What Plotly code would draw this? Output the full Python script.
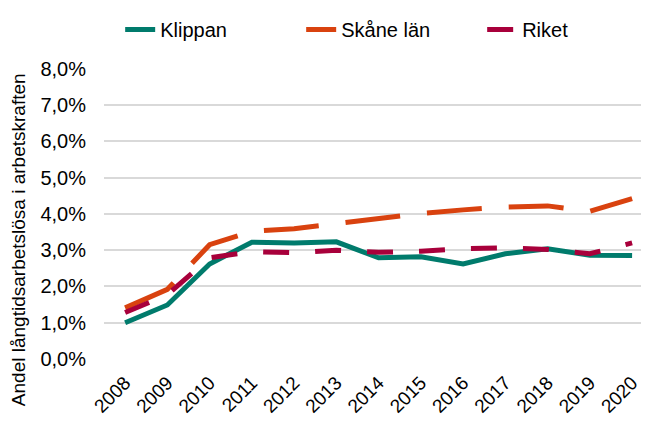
import plotly.graph_objects as go

years = [str(y) for y in range(2008, 2021)]
klippan = [1.00, 1.49, 2.62, 3.22, 3.20, 3.23, 2.79, 2.82, 2.62, 2.90, 3.04, 2.86, 2.85]
skane = [1.41, 1.92, 3.15, 3.52, 3.59, 3.73, 3.85, 4.01, 4.11, 4.19, 4.22, 4.07, 4.42]
riket = [1.28, 1.77, 2.79, 2.96, 2.93, 3.00, 2.94, 2.97, 3.04, 3.06, 3.02, 2.90, 3.20]
y_ticks = [0, 1, 2, 3, 4, 5, 6, 7, 8]
y_labels = ["0,0%", "1,0%", "2,0%", "3,0%", "4,0%", "5,0%", "6,0%", "7,0%", "8,0%"]
y_title = "Andel långtidsarbetslösa i arbetskraften"

FONT = "Liberation Sans, Arial, sans-serif"

fig = go.Figure()
fig.add_trace(go.Scatter(
    x=years, y=klippan, mode="lines", name="Klippan",
    line=dict(color="#007B6C", width=5),
))
fig.add_trace(go.Scatter(
    x=years, y=skane, mode="lines", name="Skåne län",
    line=dict(color="#D9420F", width=5, dash="55px,27px"),
))
fig.add_trace(go.Scatter(
    x=years, y=riket, mode="lines", name="Riket",
    line=dict(color="#A8003B", width=5, dash="26px,26px"),
))

# page body has an 8px margin, so the figure is a bit smaller than the window
fig.update_layout(
    width=641, height=413,
    paper_bgcolor="white", plot_bgcolor="white",
    font=dict(family=FONT, size=20, color="#000000"),
    margin=dict(l=96, r=0, t=60, b=62, autoexpand=False),
    showlegend=True,
    legend=dict(
        orientation="h", x=0.175, xanchor="left", xref="container",
        y=0.995, yanchor="top", yref="container",
        font=dict(size=20), entrywidth=136,
    ),
    xaxis=dict(
        type="category", range=[-0.5, 12.4], tickangle=-45, automargin=False,
        showgrid=False, showline=False, ticks="", tickfont=dict(size=19),
        ticklabelstandoff=8,
    ),
    yaxis=dict(
        range=[0, 8.02], tickvals=y_ticks, ticktext=y_labels, automargin=False,
        showgrid=True, gridcolor="#D9D9D9", gridwidth=1.5,
        zeroline=False, showline=False, ticks="",
        tickfont=dict(size=20), ticklabelstandoff=17,
    ),
)
fig.add_annotation(
    text=y_title, textangle=-90, showarrow=False,
    xref="paper", yref="paper", x=-0.157, y=0.41,
    xanchor="center", yanchor="middle", font=dict(size=19),
)

fig.write_html("out.html")
